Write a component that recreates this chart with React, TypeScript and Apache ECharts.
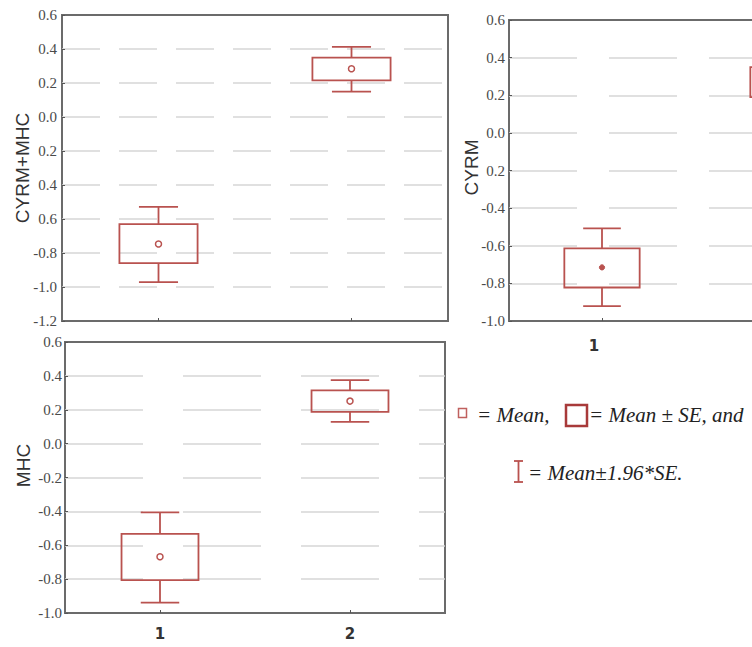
import React, { useEffect, useRef } from "react";
import * as echarts from "echarts";

// ---------- data ----------
const categories = ["1", "2"];

// Panel 1: CYRM+MHC
const combWhiskerLow = [-0.971, 0.149];
const combBoxLow = [-0.859, 0.216];
const combMean = [-0.747, 0.284];
const combBoxHigh = [-0.63, 0.349];
const combWhiskerHigh = [-0.529, 0.412];
const combTickLabels = ["0.6", "0.4", "0.2", "0.0", "0.2", "0.4", "0.6", "-0.8", "-1.0", "-1.2"];

// Panel 2: CYRM
const cyrmWhiskerLow = [-0.921, 0.13];
const cyrmBoxLow = [-0.822, 0.19];
const cyrmMean = [-0.715, 0.27];
const cyrmBoxHigh = [-0.614, 0.35];
const cyrmWhiskerHigh = [-0.508, 0.41];
const cyrmTickLabels = ["0.6", "0.4", "0.2", "0.0", "0.2", "-0.4", "-0.6", "-0.8", "-1.0"];

// Panel 3: MHC
const mhcWhiskerLow = [-0.939, 0.129];
const mhcBoxLow = [-0.806, 0.188];
const mhcMean = [-0.668, 0.251];
const mhcBoxHigh = [-0.533, 0.314];
const mhcWhiskerHigh = [-0.406, 0.375];
const mhcTickLabels = ["0.6", "0.4", "0.2", "0.0", "-0.2", "-0.4", "-0.6", "-0.8", "-1.0"];

const BOX_COLOR = "#b9524f";

function rows(wl: number[], bl: number[], m: number[], bh: number[], wh: number[]) {
  return categories.map((_, i) => [i, wl[i], bl[i], m[i], bh[i], wh[i]]);
}

function makeRender(filledMean: boolean) {
  return (params: any, api: any) => {
    const x = api.value(0);
    const wl = api.coord([x, api.value(1)]);
    const bl = api.coord([x, api.value(2)]);
    const m = api.coord([x, api.value(3)]);
    const bh = api.coord([x, api.value(4)]);
    const wh = api.coord([x, api.value(5)]);
    const band = api.size([1, 0])[0];
    const bw = band * 0.405;
    const cw = bw / 2;
    const cx = m[0];
    const st = { stroke: BOX_COLOR, lineWidth: 1.8, fill: "none" };
    return {
      type: "group",
      children: [
        { type: "rect", shape: { x: cx - bw / 2, y: bh[1], width: bw, height: bl[1] - bh[1] }, style: st },
        { type: "line", shape: { x1: cx, y1: bh[1], x2: cx, y2: wh[1] }, style: st },
        { type: "line", shape: { x1: cx - cw / 2, y1: wh[1], x2: cx + cw / 2, y2: wh[1] }, style: st },
        { type: "line", shape: { x1: cx, y1: bl[1], x2: cx, y2: wl[1] }, style: st },
        { type: "line", shape: { x1: cx - cw / 2, y1: wl[1], x2: cx + cw / 2, y2: wl[1] }, style: st },
        filledMean
          ? { type: "circle", shape: { cx, cy: m[1], r: 2.6 }, style: { fill: BOX_COLOR, stroke: BOX_COLOR, lineWidth: 1 } }
          : { type: "circle", shape: { cx, cy: m[1], r: 3 }, style: { fill: "#fff", stroke: BOX_COLOR, lineWidth: 1.5 } },
      ],
    };
  };
}

const gridBase = { show: true, borderColor: "#6b6b6b", borderWidth: 2, backgroundColor: "#fff", containLabel: false, outerBoundsMode: "none" };

function yAxisFor(gridIndex: number, min: number, max: number, labels: string[], name: string, nameGap: number, dash: number[], labelMargin: number, namePadding: number[]) {
  return {
    type: "value",
    gridIndex,
    min,
    max,
    interval: 0.2,
    name,
    nameLocation: "middle",
    nameGap,
    nameMoveOverlap: false,
    nameTextStyle: { fontFamily: "Liberation Sans", fontSize: 19, color: "#333", padding: namePadding },
    axisLine: { show: false, onZero: false },
    axisTick: { show: true, inside: true, length: 3, lineStyle: { color: "#555" } },
    axisLabel: {
      margin: labelMargin,
      fontFamily: "Liberation Serif",
      fontSize: 15,
      color: "#4a4a4a",
      formatter: (v: number) => labels[Math.round((max - v) / 0.2)] ?? "",
    },
    splitLine: { show: true, showMinLine: false, showMaxLine: false, lineStyle: { color: "#d6d6d6", width: 1.5, type: dash } },
  };
}

function xAxisFor(gridIndex: number, showLabels: boolean, margin: number, visibleCount: number, padding: number[]) {
  return {
    type: "category",
    gridIndex,
    position: "bottom",
    data: categories,
    boundaryGap: true,
    axisLine: { show: false, onZero: false },
    axisTick: { show: true, inside: true, alignWithLabel: true, length: 3, lineStyle: { color: "#555" } },
    axisLabel: {
      show: showLabels,
      margin,
      padding,
      interval: (idx: number) => idx < visibleCount,
      fontFamily: "DejaVu Sans",
      fontWeight: "bold",
      fontSize: 15,
      color: "#333",
    },
    splitLine: { show: false },
  };
}

export default function App() {
  const ref = useRef<HTMLDivElement>(null);
  useEffect(() => {
    document.body.style.margin = "0";
    document.body.style.overflow = "hidden";
    if (!ref.current) return;
    const chart = echarts.init(ref.current, undefined, { renderer: "svg" });
    const legendText = { fontFamily: "Liberation Serif", fontStyle: "italic", fontSize: 21, fill: "#222" };
    chart.setOption({
      animation: false,
      backgroundColor: "#fff",
      grid: [
        { ...gridBase, left: 62, top: 15, width: 386, height: 306 },
        { ...gridBase, left: 509, top: 20, width: 372, height: 301 },
        { ...gridBase, left: 65, top: 342, width: 380, height: 271 },
      ],
      xAxis: [
        xAxisFor(0, false, 12, 2, [0, 0, 0, 0]),
        xAxisFor(1, true, 17, 1, [0, 16, 0, 0]),
        xAxisFor(2, true, 13, 2, [0, 0, 0, 0]),
      ],
      yAxis: [
        yAxisFor(0, -1.2, 0.6, combTickLabels, "CYRM+MHC", 30.5, [38, 19], 5, [0, 0, 0, 0]),
        yAxisFor(1, -1.0, 0.6, cyrmTickLabels, "CYRM", 28, [68, 32], 4, [0, 0, 0, 6]),
        yAxisFor(2, -1.0, 0.6, mhcTickLabels, "MHC", 32.5, [78, 40], 3, [0, 0, 0, 24]),
      ],
      series: [
        {
          type: "custom",
          xAxisIndex: 0,
          yAxisIndex: 0,
          renderItem: makeRender(false),
          encode: { x: 0, y: [1, 2, 3, 4, 5] },
          data: rows(combWhiskerLow, combBoxLow, combMean, combBoxHigh, combWhiskerHigh),
        },
        {
          type: "custom",
          xAxisIndex: 1,
          yAxisIndex: 1,
          renderItem: makeRender(true),
          encode: { x: 0, y: [1, 2, 3, 4, 5] },
          data: rows(cyrmWhiskerLow, cyrmBoxLow, cyrmMean, cyrmBoxHigh, cyrmWhiskerHigh),
        },
        {
          type: "custom",
          xAxisIndex: 2,
          yAxisIndex: 2,
          renderItem: makeRender(false),
          encode: { x: 0, y: [1, 2, 3, 4, 5] },
          data: rows(mhcWhiskerLow, mhcBoxLow, mhcMean, mhcBoxHigh, mhcWhiskerHigh),
        },
      ],
      graphic: [
        { type: "rect", shape: { x: 458.5, y: 408.5, width: 8, height: 9 }, style: { fill: "none", stroke: "#c0605e", lineWidth: 1.5 } },
        { type: "text", x: 477, y: 415, style: { ...legendText, text: "= Mean,", verticalAlign: "middle" } },
        { type: "rect", shape: { x: 566, y: 405, width: 21, height: 21 }, style: { fill: "none", stroke: "#a83a3a", lineWidth: 2.5 } },
        { type: "text", x: 589, y: 415, style: { ...legendText, text: "= Mean ± SE, and", verticalAlign: "middle" } },
        { type: "line", shape: { x1: 518.5, y1: 461, x2: 518.5, y2: 482 }, style: { stroke: "#b9524f", lineWidth: 1.8 } },
        { type: "line", shape: { x1: 514, y1: 461, x2: 523, y2: 461 }, style: { stroke: "#b9524f", lineWidth: 1.8 } },
        { type: "line", shape: { x1: 514, y1: 482, x2: 523, y2: 482 }, style: { stroke: "#b9524f", lineWidth: 1.8 } },
        { type: "text", x: 528, y: 473, style: { ...legendText, text: "= Mean±1.96*SE.", verticalAlign: "middle" } },
      ],
    });
    return () => chart.dispose();
  }, []);
  return <div ref={ref} style={{ width: 752, height: 647 }} />;
}
